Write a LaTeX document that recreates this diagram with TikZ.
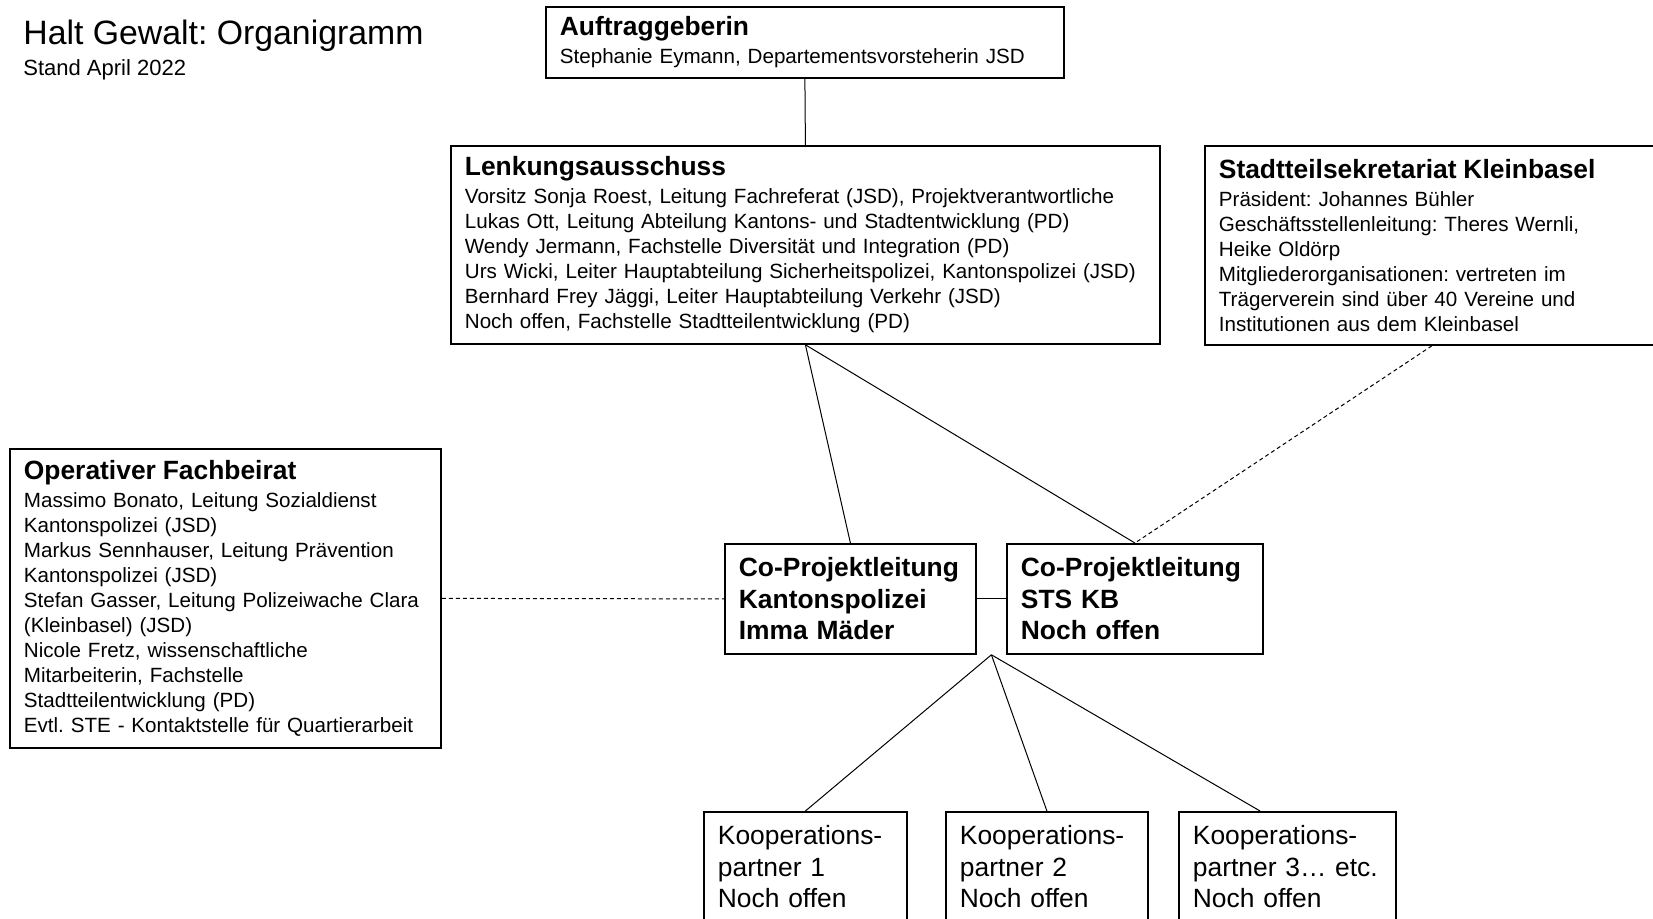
\documentclass[tikz,border=0pt]{standalone}
\usepackage{fontspec}
\setmainfont{Liberation Sans}
\usetikzlibrary{calc}
\frenchspacing

\newcommand{\bodyfont}{\fontsize{10.3}{12.5}\selectfont}
\newcommand{\bigfont}{\fontsize{13.2}{15.8}\selectfont}
\newcommand{\boxhead}[1]{{\bigfont\bfseries #1}}

\tikzset{
  orgbox/.style={draw, line width=0.9pt, anchor=north west, inner xsep=7pt, align=left, font=\bodyfont},
  bigbox/.style={orgbox, font=\bigfont},
  link/.style={line width=0.5pt},
  dashlink/.style={link, dash pattern=on 2pt off 1.5pt}
}

\begin{document}
\begin{tikzpicture}[x=0.5pt,y=-0.5pt]
    % Draw page frame
    \clip (0,0) rectangle (1653,919);

    % Draw title
    \node[anchor=base west, inner sep=0pt, font=\fontsize{16.9}{20}\selectfont] (title) at (23,45) {Halt Gewalt: Organigramm};
    \node[anchor=base west, inner sep=0pt, font=\fontsize{11}{13}\selectfont] (subtitle) at (23,76) {Stand April 2022};

    % Draw boxes
    \node[orgbox, text width=245pt, minimum height=35.5pt] (auftr) at (545,6)
        {\boxhead{Auftraggeberin}\\[1.5pt]
         Stephanie Eymann, Departementsvorsteherin JSD};
    \node[orgbox, text width=340.5pt, minimum height=99pt] (lenk) at (450,145)
        {\boxhead{Lenkungsausschuss}\\[1.5pt]
         Vorsitz Sonja Roest, Leitung Fachreferat (JSD), Projektverantwortliche\\
         Lukas Ott, Leitung Abteilung Kantons- und Stadtentwicklung (PD)\\
         Wendy Jermann, Fachstelle Diversität und Integration (PD)\\
         Urs Wicki, Leiter Hauptabteilung Sicherheitspolizei, Kantonspolizei (JSD)\\
         Bernhard Frey Jäggi, Leiter Hauptabteilung Verkehr (JSD)\\
         Noch offen, Fachstelle Stadtteilentwicklung (PD)};
    \node[orgbox, text width=213pt, minimum height=99.5pt] (stadt) at (1204,145)
        {\boxhead{Stadtteilsekretariat Kleinbasel}\\[1.5pt]
         Präsident: Johannes Bühler\\
         Geschäftsstellenleitung: Theres Wernli,\\
         Heike Oldörp\\
         Mitgliederorganisationen: vertreten im\\
         Trägerverein sind über 40 Vereine und\\
         Institutionen aus dem Kleinbasel};
    \node[orgbox, text width=201.5pt, minimum height=149.5pt] (fachbeirat) at (9,448)
        {\boxhead{Operativer Fachbeirat}\\[1.5pt]
         Massimo Bonato, Leitung Sozialdienst\\
         Kantonspolizei (JSD)\\
         Markus Sennhauser, Leitung Prävention\\
         Kantonspolizei (JSD)\\
         Stefan Gasser, Leitung Polizeiwache Clara\\
         (Kleinbasel) (JSD)\\
         Nicole Fretz, wissenschaftliche\\
         Mitarbeiterin, Fachstelle\\
         Stadtteilentwicklung (PD)\\
         Evtl. STE - Kontaktstelle für Quartierarbeit};
    \node[bigbox, font=\bigfont\bfseries, text width=111.5pt, minimum height=55pt] (coplkapo) at (724,543)
        {Co-Projektleitung\\ Kantonspolizei\\ Imma Mäder};
    \node[bigbox, font=\bigfont\bfseries, text width=114pt, minimum height=55pt] (coplsts) at (1006,543)
        {Co-Projektleitung\\ STS KB\\ Noch offen};
    \node[bigbox, text width=87.5pt, minimum height=55pt] (koopa) at (703,811)
        {Kooperations-\\ partner 1\\ Noch offen};
    \node[bigbox, text width=87pt, minimum height=55pt] (koopb) at (945,811)
        {Kooperations-\\ partner 2\\ Noch offen};
    \node[bigbox, text width=94.5pt, minimum height=55pt] (koopc) at (1178,811)
        {Kooperations-\\ partner 3… etc.\\ Noch offen};

    % Draw helper points
    \coordinate (fork) at ($(coplkapo.south east)!0.5!(coplsts.south west)$);
    \coordinate (koopctop) at ($(koopc.north west)!0.375!(koopc.north east)$);

    % Draw connectors
    \draw[link] (auftr.south) -- (lenk.north);
    \draw[link] (lenk.south) -- (coplkapo.north);
    \draw[link] (lenk.south) -- (coplsts.north);
    \draw[dashlink] (stadt.south) -- (coplsts.north);
    \draw[dashlink] (fachbeirat.east) -- (coplkapo.west);
    \draw[link] (coplkapo.east) -- (coplsts.west);
    % co-leads to partners
    \draw[link] (fork) -- (koopa.north);
    \draw[link] (fork) -- (koopb.north);
    \draw[link] (fork) -- (koopctop);
\end{tikzpicture}
\end{document}
